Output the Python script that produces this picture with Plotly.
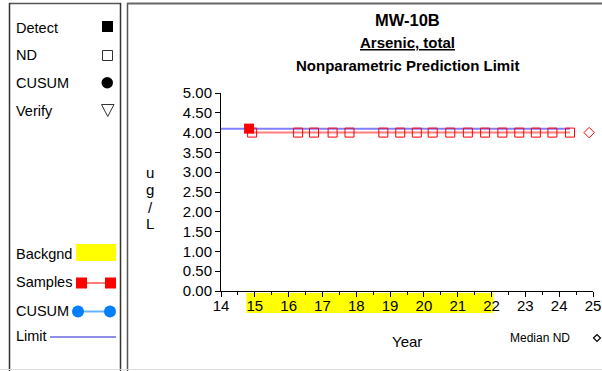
import plotly.graph_objects as go

# ---- data ----
detect_years = [14.83]
detect_values = [4.1]
nd_years = [14.92, 16.28, 16.75, 17.30, 17.80, 18.80, 19.30, 19.79, 20.26, 20.78,
            21.30, 21.81, 22.32, 22.82, 23.31, 23.80, 24.32]
nd_values = [4.0] * len(nd_years)
limit_years = [14.0, 24.32]
limit_values = [4.1, 4.1]
median_nd_year = [25.12]
median_nd_value = [4.0]
bg_start, bg_end = 14.75, 22.05
y_ticks = [0, 0.5, 1, 1.5, 2, 2.5, 3, 3.5, 4, 4.5, 5]
x_ticks = list(range(14, 26))
x_min, x_max = 14, 25

W, H = 602, 371
L, R, T, B = 221, 593, 93, 291   # plot area of the main axes, in pixels
PR = 601                          # right edge of paper area
FONT = "Arial, Liberation Sans, sans-serif"


def px(x):
    return (x - L) / (PR - L)


def py(y):
    return (B - y) / (B - T)


samples = sorted(zip(detect_years + nd_years, detect_values + nd_values))

fig = go.Figure()
fig.add_trace(go.Scatter(x=limit_years, y=limit_values, mode="lines",
                         line=dict(color="rgba(0,0,255,0.5)", width=2),
                         hoverinfo="skip", showlegend=False))
fig.add_trace(go.Scatter(x=[s[0] for s in samples], y=[s[1] for s in samples], mode="lines",
                         line=dict(color="rgba(255,0,0,0.5)", width=2),
                         hoverinfo="skip", showlegend=False))
fig.add_trace(go.Scatter(x=nd_years, y=nd_values, mode="markers",
                         marker=dict(symbol="square-open", size=9, color="red",
                                     line=dict(color="red", width=1)),
                         showlegend=False))
fig.add_trace(go.Scatter(x=detect_years, y=detect_values, mode="markers",
                         marker=dict(symbol="square", size=10, color="red"),
                         showlegend=False))
# median ND marker sits just right of the axis end: use a wider invisible overlay axis
fig.add_trace(go.Scatter(x=median_nd_year, y=median_nd_value, mode="markers", xaxis="x2",
                         marker=dict(symbol="diamond-open", size=8, color="red",
                                     line=dict(color="red", width=1)),
                         cliponaxis=False, showlegend=False))

shapes = []
annots = []


def line(x0, y0, x1, y1, color, width=1):
    shapes.append(dict(type="line", xref="paper", yref="paper",
                       x0=px(x0), y0=py(y0), x1=px(x1), y1=py(y1),
                       line=dict(color=color, width=width)))


def text(x, y, s, size=14.5, anchor="left", color="black"):
    annots.append(dict(xref="paper", yref="paper", x=px(x), y=py(y), text=s,
                       showarrow=False, xanchor=anchor, yanchor="middle",
                       font=dict(family=FONT, size=size, color=color)))


# background band under x-axis labels
shapes.append(dict(type="rect", xref="x", yref="paper", x0=bg_start, x1=bg_end,
                   y0=py(313), y1=py(293), fillcolor="yellow", line=dict(width=0),
                   layer="below"))

# panels
line(9, 3.5, 121, 3.5, "#555555", 1.5)
line(9.5, 3, 9.5, 371, "#333333", 1.5)
line(120.5, 3, 120.5, 371, "#333333", 1.5)
line(127.5, 3, 127.5, 371, "#555555", 1.5)
line(127, 3.5, 602, 3.5, "#666666", 2)
line(0, 369.5, 602, 369.5, "#dddddd", 1)

# legend panel items
text(14, 28, "Detect")
shapes.append(dict(type="rect", xref="paper", yref="paper", x0=px(102), x1=px(113),
                   y0=py(32), y1=py(21), fillcolor="black", line=dict(width=0)))
text(14, 55, "ND")
shapes.append(dict(type="rect", xref="paper", yref="paper", x0=px(102.5), x1=px(112.5),
                   y0=py(60.5), y1=py(50.5), fillcolor="white",
                   line=dict(color="#333333", width=1)))
text(14, 83, "CUSUM")
shapes.append(dict(type="circle", xref="paper", yref="paper", x0=px(101.5), x1=px(113),
                   y0=py(88.5), y1=py(77), fillcolor="black", line=dict(width=0)))
text(14, 111, "Verify")
shapes.append(dict(type="path", xref="paper", yref="paper",
                   path="M %f %f L %f %f L %f %f Z" % (px(101.5), py(104.5), px(114), py(104.5),
                                                    px(107.75), py(116.5)),
                   fillcolor="white", line=dict(color="#333333", width=1)))

text(14, 254, "Backgnd")
shapes.append(dict(type="rect", xref="paper", yref="paper", x0=px(76), x1=px(116),
                   y0=py(261), y1=py(244), fillcolor="yellow", line=dict(width=0)))
text(14, 282, "Samples")
line(82, 283, 110, 283, "red", 1)
for cx in (81.5, 110.5):
    shapes.append(dict(type="rect", xref="paper", yref="paper", x0=px(cx - 5.5), x1=px(cx + 5.5),
                       y0=py(288.5), y1=py(277.5), fillcolor="red", line=dict(width=0)))
text(14, 311, "CUSUM")
line(80, 311.5, 110, 311.5, "#66b3ff", 2)
for cx in (78, 110):
    shapes.append(dict(type="circle", xref="paper", yref="paper", x0=px(cx - 6), x1=px(cx + 6),
                       y0=py(317.5), y1=py(305.5), fillcolor="#0080ff", line=dict(width=0)))
text(14, 336, "Limit")
line(50, 337, 116, 337, "#1f1fd0", 1)

# titles
text(407, 20, "<b>MW-10B</b>", size=16.5, anchor="center")
text(407, 43, "<b><u>Arsenic, total</u></b>", size=15, anchor="center")
text(407, 66, "<b>Nonparametric Prediction Limit</b>", size=15, anchor="center")
for ch, yy in zip(["u", "g", "/", "L"], [172, 189, 207, 223]):
    text(150, yy, ch, size=15, anchor="center")
text(407, 341, "Year", size=15, anchor="center")
text(540, 338, "Median ND", size=12, anchor="center")
d = 3.5
shapes.append(dict(type="path", xref="paper", yref="paper",
                   path="M %f %f L %f %f L %f %f L %f %f Z" % (
                       px(597 - d), py(338), px(597), py(338 - d),
                       px(597 + d), py(338), px(597), py(338 + d)),
                   line=dict(color="black", width=1.2)))

dom_end = (R - L) / (PR - L)
x2_max = x_min + (x_max - x_min) / dom_end

fig.update_layout(
    width=W, height=H,
    margin=dict(l=L, r=W - PR, t=T, b=H - B, autoexpand=False),
    paper_bgcolor="white", plot_bgcolor="rgba(0,0,0,0)",
    font=dict(family=FONT, size=15, color="black"),
    shapes=shapes, annotations=annots,
    xaxis=dict(domain=[0, dom_end], range=[x_min, x_max], tickvals=x_ticks,
               ticktext=[str(v) for v in x_ticks], automargin=False,
               showgrid=False, zeroline=False, showline=True, linecolor="black", linewidth=1,
               ticks="outside", ticklen=5, tickcolor="black", ticklabelstandoff=-4,
               minor=dict(dtick=0.5, tick0=14, ticks="outside", ticklen=3, tickcolor="black"),
               tickfont=dict(family=FONT, size=15), fixedrange=True),
    xaxis2=dict(domain=[0, 1], range=[x_min, x2_max], overlaying="x", visible=False,
                automargin=False, fixedrange=True),
    yaxis=dict(range=[0, 5], tickvals=y_ticks, ticktext=["%.2f" % v for v in y_ticks],
               automargin=False,
               showgrid=False, zeroline=False, showline=True, linecolor="black", linewidth=1,
               ticks="outside", ticklen=5, tickcolor="black",
               tickfont=dict(family=FONT, size=15), fixedrange=True),
)

fig.write_html("out.html", config={"displayModeBar": False},
               post_script="document.body.style.margin='0';document.body.style.overflow='hidden';")
